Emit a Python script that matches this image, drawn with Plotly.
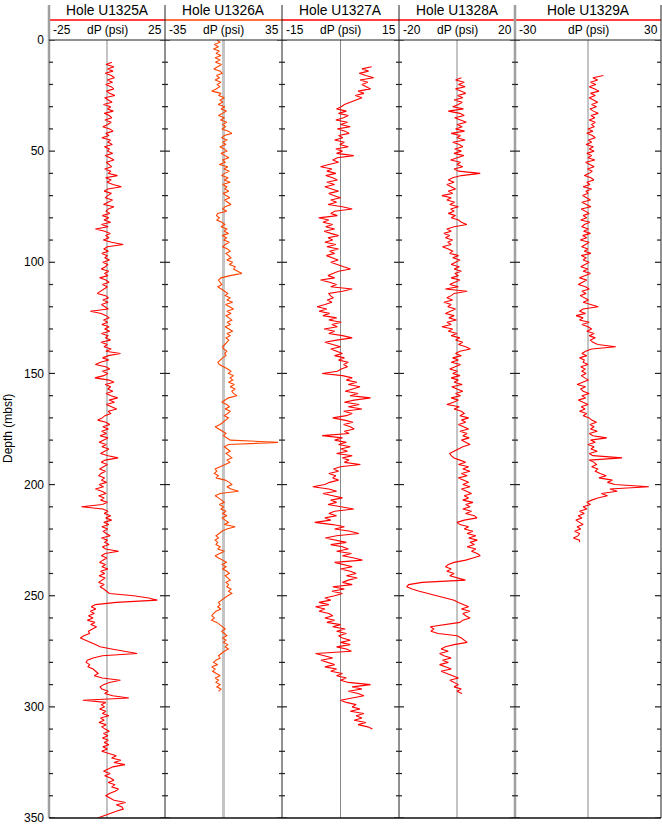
import plotly.graph_objects as go

# ---------------- data (dP in psi, sampled every DEPTH_STEP m from *_START) ----------------
DEPTH_STEP = 1.0
HOLES = ["Hole U1325A", "Hole U1326A", "Hole U1327A", "Hole U1328A", "Hole U1329A"]
X_LIMITS = [25, 35, 15, 20, 30]
COLORS = ["#ff0000", "#ff4400", "#ff0000", "#ff0000", "#ff0000"]
DEPTH_TICKS = [0, 50, 100, 150, 200, 250, 300, 350]

U1325A_START = 10
U1325A_DP = [
    2.1, -0.4, 3.0, 0.2, 2.6, -0.8, 1.9, 3.2, 0.1, 2.4,
    -0.6, 1.8, 2.9, -0.2, 1.1, 3.4, -1.0, 0.8, 2.2, -1.5,
    1.6, 0.2, 2.7, -1.2, 1.0, 2.1, -0.9, 1.8, 0.3, -1.8,
    1.2, 2.6, -0.5, 0.9, -2.2, 1.5, 0.4, 2.3, -1.1, 1.0,
    0.2, 2.4, -0.8, 1.3, 3.0, -0.3, 0.9, 2.0, -1.0, 1.7,
    0.5, 4.5, -0.6, 1.8, 0.0, 2.6, 6.2, 0.4, -1.2, 1.9,
    0.3, -0.8, 2.4, 0.1, -1.5, 3.0, 0.6, -0.4, 1.2, -2.0,
    0.8, -1.3, 1.6, -2.4, 0.5, -5.0, -1.0, 1.4, -0.6, 0.9,
    -1.6, 2.0, 7.0, 0.2, -1.4, 0.6, -2.2, 0.1, -0.9, 1.1,
    -1.8, 0.3, -0.7, -2.5, 0.8, -1.1, 0.4, -3.2, -0.5, 0.9,
    -2.0, 0.2, -1.2, -3.0, -4.2, -0.6, 0.7, -1.8, 0.5, -2.4,
    -0.8, 0.6, -7.2, -2.5, -0.4, 1.0, -1.5, 0.3, -2.2, 0.9,
    -1.0, 1.2, -2.4, 0.4, -0.6, 1.5, -2.6, 0.2, -1.3, 1.8,
    -0.5, 5.8, 0.6, -1.9, 0.8, -2.8, -5.0, -0.6, 1.2, -2.0,
    0.4, -1.4, -5.2, 0.9, 3.0, -0.8, 1.6, 0.3, 2.5, -0.4,
    1.8, 4.6, 0.9, 3.2, -0.3, 2.0, 4.2, 0.5, 1.6, -0.9,
    -2.0, -4.0, -0.5, 1.2, -1.8, 0.6, -2.3, -0.2, -3.0, 0.4,
    -1.6, -3.4, -0.3, -2.2, 0.8, -1.2, -2.8, 0.5, 4.8, -0.8,
    -2.5, 0.2, -1.4, -3.2, -0.6, -2.6, -3.5, -1.0, -2.4, -0.2,
    -3.4, -1.5, -5.0, -2.2, -0.4, -3.6, -1.2, -2.8, 0.2, -2.0,
    -11.0, -1.8, 0.4, -1.2, 1.6, -0.6, 2.0, -1.4, 0.8, -2.2,
    0.3, -1.6, -0.4, 1.4, -2.4, 0.2, -1.0, 0.9, -2.0, -0.6,
    5.0, -0.8, -2.4, 0.0, -1.8, -3.2, -0.6, -2.2, 0.4, -2.8,
    -1.0, -3.4, -0.8, -2.2, -3.6, -1.2, -3.0, -1.4, 0.0, 1.0,
    11.5, 18.0, 21.7, 4.0, -5.0, -6.8, -4.8, -7.2, -5.5, -8.0,
    -6.0, -8.5, -5.2, -7.0, -4.5, -6.2, -8.0, -7.5, -10.0, -11.5,
    -9.0, -7.0, -5.0, -3.0, 2.0, 8.0, 13.0, -2.0, -6.0, -8.5,
    -9.0, -7.5, -8.2, -6.0, -5.0, -3.8, -5.5, -2.0, 5.8, 1.0,
    -1.5, -3.0, -2.2, 0.5, -1.0, 2.5, 9.4, -10.4, -0.5, -2.5,
    -1.0, -3.2, -0.5, -2.0, 0.8, -2.8, -1.2, -3.5, -0.4, -2.2,
    -0.8, 1.0, -1.5, 0.4, -2.0, 0.6, -1.2, 0.8, -1.8, 0.2,
    -2.3, 0.5, 4.0, 2.0, 6.0, 3.0, 7.7, 2.5, 0.5, -1.5,
    1.4, -1.0, 1.5, 3.0, 0.5, 3.5, 2.0, 5.0, 3.5, 1.0,
    -0.5, 1.5, 3.0, 8.0, 4.0, 6.5, 7.0, 4.0, 1.0, -2.0,
    -4.0,
]

U1326A_START = 0
U1326A_DP = [
    -4.0, -2.0, -5.5, -3.0, -6.0, -2.5, -4.5, -1.5, -5.0, -2.0,
    -4.8, -1.2, -3.5, -5.8, -2.0, -0.8, -4.2, -2.5, -5.0, -1.5,
    -3.8, -2.2, -4.5, -7.0, -1.5, -2.8, 0.5, -2.0, -0.5, -3.2,
    0.8, -1.5, 1.8, -0.8, -3.0, 0.6, -1.8, 2.0, -0.5, 1.2,
    -1.0, 3.0, 5.0, 0.5, -1.2, 2.2, -0.6, 1.5, -2.2, 0.4,
    2.0, -1.5, 0.8, 3.2, -0.5, 1.0, -2.5, 2.6, 0.2, 3.5,
    0.6, -1.2, 2.8, 0.4, 4.0, -0.6, 2.0, 0.8, 3.2, -0.2,
    1.5, 3.8, 0.6, 2.2, 4.5, 1.0, -0.5, 2.0, -3.5, -4.2,
    -2.5, -4.0, -1.0, 0.8, -1.5, 2.0, 0.5, 3.0, -0.8, 1.8,
    0.2, 3.5, 1.0, -0.5, 2.4, 4.0, 1.5, 3.0, 4.5, 2.0,
    5.5, 3.5, 7.0, 6.0, 9.0, 11.0, 4.0, -1.5, -3.0, -2.0,
    -1.0, -3.4, -1.5, 0.5, 2.5, 1.0, 4.0, 2.0, 5.5, 1.2,
    3.5, 6.0, 2.0, 4.5, 1.5, 3.0, 5.0, 2.2, 4.2, 1.0,
    3.6, 5.5, 2.0, 4.0, 1.5, 3.2, 2.0, 0.5, -0.5, 0.0,
    2.0, 0.8, 1.5, -0.5, -2.0, -3.4, -2.5, 0.5, 2.5, 4.5,
    3.0, 6.0, 4.0, 5.5, 3.0, 6.5, 4.0, 7.0, 5.0, 6.0,
    8.0, 3.0, 1.0, -1.0, 2.0, 3.5, 1.0, 4.0, 2.5, 0.5,
    3.0, 1.5, -0.5, -2.0, -5.0, -3.0, -0.5, 1.5, 0.0, 2.0,
    4.0, 32.6, 3.0, 0.5, 2.5, 4.0, 1.5, 3.5, 5.0, 2.0,
    4.0, 1.0, -2.0, -5.0, -4.0, -5.5, -3.0, -4.5, 1.0, 3.5,
    5.0, 2.0, 4.5, 9.0, -2.0, -5.0, -3.0, -1.0, 0.5, -2.5,
    0.0, -1.5, 1.5, -0.5, 2.0, -1.0, 1.0, 3.0, 0.5, 7.0,
    2.0, -1.0, -2.5, -4.5, -3.0, -5.0, -3.5, -4.5, -2.0, -3.5,
    0.5, -2.0, -5.0, -3.0, 0.0, 2.0, -1.0, 1.5, -0.5, 2.0,
    3.5, 1.0, 2.5, 4.0, 1.5, 3.0, 2.0, 4.5, 3.0, 5.0,
    2.5, 0.5, -1.5, -3.0, -2.0, -3.5, -1.5, -4.5, -6.0, -7.0,
    -5.5, -7.2, -4.0, -2.0, -0.5, 1.0, -1.0, 0.5, 2.0, -0.5,
    1.5, 0.0, 2.5, 1.0, 3.0, 0.5, -1.5, -3.0, -2.0, -4.5,
    -6.0, -3.5, -7.0, -5.0, -6.5, -4.0, -2.0, -5.0, -3.0, -4.5,
    -2.0, -4.0, -1.5, -3.0,
]

U1327A_START = 12
U1327A_DP = [
    8.0, 5.5, 7.2, 4.8, 6.5, 8.5, 5.0, 7.0,
    5.5, 6.8, 7.7, 4.5, 6.0, 3.8, 5.5, 4.0, 2.5, 1.0,
    0.2, -1.0, 1.5, -0.5, 2.0, 0.8, -1.2, 1.8, 0.0, 2.5,
    -0.8, 1.2, 2.2, -0.5, 0.6, -1.5, 1.0, -0.2, 2.0, -1.2,
    0.5, -1.0, 3.4, -0.8, -2.0, -0.5, -3.0, -5.1, -2.2, -3.5,
    -1.2, -3.8, -2.0, -0.8, -3.5, -1.5, -4.0, -2.2, -0.5, -3.0,
    -1.8, 0.0, -2.5, -1.0, -3.2, 0.5, 3.0, -1.5, -2.5, -0.8,
    -5.6, -3.0, -4.5, -2.0, -3.8, -1.5, -4.2, -2.5, -0.5, -3.2,
    -2.0, -4.0, -1.2, -3.5, -0.5, -2.8, -1.5, -3.6, -2.2, -0.6,
    -2.5, -1.0, 0.8, 2.6, -0.5, -2.0, -3.2, -1.5, -5.1, -2.8,
    -1.0, -2.5, 3.0, 0.5, -3.0, -2.6, -1.8, -3.4, -2.2, -4.0,
    -6.0, -3.5, -5.5, -2.8, -4.5, -1.0, -3.0, 0.2, -2.2, -0.8,
    -4.2, -1.5, -3.0, 0.5, 3.0, -1.0, -4.0, -2.0, 0.0, -2.5,
    -1.0, 0.5, -1.5, 1.0, -0.5, 2.0, 0.8, 1.8, 0.2, -0.8,
    -4.7, 0.5, 3.0, 1.5, 4.2, 2.0, 5.0, 3.2, 1.2, 4.5,
    2.5, 7.7, 3.5, 1.0, 4.8, 2.0, 5.5, 0.8, 3.0, 1.5,
    -2.0, 1.0, 3.2, 0.8, 2.5, 3.5, 1.0, 2.2, -4.7, 0.5,
    -1.5, 1.5, -0.5, 2.5, 0.0, 1.8, -1.0, 3.0, 0.5, 2.2,
    1.0, 5.1, 0.0, -1.8, -0.5, -3.0, -1.2, -2.0, -0.5, -2.8,
    -4.0, -7.1, -3.0, -1.0, -4.5, -2.0, 0.5, -2.5, -1.0, -3.2,
    0.0, 3.4, -1.5, -3.0, -1.0, -4.0, -2.5, -6.6, -2.0, 1.0,
    -1.5, 2.5, 4.7, -1.0, -3.9, -1.5, 1.5, -2.5, 0.5, 2.0,
    -1.0, 2.8, 0.5, 3.5, 5.6, -1.5, 1.0, 3.0, 0.0, 2.5,
    4.0, 1.5, 4.3, 2.0, 0.5, 3.0, -2.0, 1.0, -2.2, 0.5,
    -1.5, -4.0, -2.5, -5.5, -3.0, -6.4, -4.0, -5.5, -3.0, -2.0,
    -4.0, -1.5, -3.5, 0.0, -2.0, 1.2, -1.0, 1.5, -0.5, 0.5,
    2.5, 0.0, 2.5, -1.0, 1.5, 2.8, -6.4, -4.5, -2.0, -5.0,
    -3.0, -1.5, -4.0, -1.0, -2.5, 0.5, -1.0, 1.5, 0.0, 2.0,
    7.7, 3.0, 5.5, 2.0, 4.5, 6.0, 3.0, 0.0, 1.5, 4.0,
    3.0, 5.0, 2.5, 6.0, 4.0, 5.5, 3.5, 6.5, 4.5, 7.0, 8.2,
]

U1328A_START = 17
U1328A_DP = [
    1.5, -0.5, 2.5,
    0.5, 2.8, -0.5, 1.5, 3.0, 0.2, 2.0, -1.0, 1.8, 0.5,
    -1.5, 2.2, -3.0, 1.0, 2.5, -0.8, 1.5, 3.2, 0.0, 1.8,
    -0.5, 2.6, -2.0, 1.2, 0.0, 2.8, -1.5, 0.8, 2.0, -0.8,
    1.5, -1.0, 2.4, 0.3, -2.2, 1.2, 0.0, 2.0, -1.0, 0.5,
    8.0, 1.5, -1.5, -3.0, -1.0, -3.5, -2.0, -0.5, -3.0, -1.5,
    -5.2, -2.0, -3.5, -0.8, -2.5, 0.5, -2.2, -1.0, -3.0, -0.5,
    -2.0, 0.5, 1.5, 3.4, -1.0, -3.5, -2.0, -4.5, -2.5, -4.0,
    -1.5, -3.2, -2.0, -5.0, -3.0, -1.5, -2.5, 0.5, -1.5, 1.0,
    -0.5, -2.0, 0.8, -1.0, 1.5, -0.8, 0.5, -2.0, 1.0, -1.0,
    -2.5, 0.5, -4.0, 3.5, -1.0, -2.0, -3.5, -1.5, -4.5, -2.0,
    -3.2, -0.5, -2.5, -4.0, -1.0, -2.8, -0.2, -3.5, -2.0, -5.2,
    -1.5, -3.0, 0.0, -2.0, 1.0, -0.5, 2.0, 0.5, 3.0, 4.6,
    1.0, -0.5, 1.5, -1.5, 0.5, -2.0, 1.2, -0.8, -2.5, 0.2,
    -1.5, 1.0, -2.0, 0.5, -1.0, 1.8, -1.8, 0.0, 2.0, -0.5,
    1.2, -2.0, 0.5, -1.2, -3.5, 0.8, -1.0, 1.5, 2.5, 1.0,
    4.0, 1.5, 3.0, 0.5, 2.2, 4.0, 1.0, 3.5, 2.0, 4.2,
    1.5, 3.0, 4.5, 2.0, 0.5, -1.0, -2.5, -2.0, -1.0, 1.0,
    3.0, 0.5, 4.0, 2.0, 4.5, 1.5, 3.5, 0.5, 2.5, 4.0,
    2.0, 4.5, 1.5, 3.5, 5.0, 2.5, 4.0, 2.0, 5.5, 3.0,
    4.5, 2.0, 5.0, 3.0, 6.0, 6.9, 2.5, 0.0, 1.0, 4.0,
    2.5, 5.5, 3.5, 6.5, 4.0, 7.0, 4.5, 6.0, 3.5, 6.5,
    5.0, 7.0, 8.0, 5.5, 3.0, -1.0, -3.0, -4.0, -2.0, -3.5,
    -1.0, -2.5, 0.5, 2.9, -12.0, -16.7, -17.3, -15.5, -13.0, -10.0,
    -6.0, -3.0, -1.0, 0.5, 2.0, 4.0, 1.5, 4.5, 2.0, 3.0,
    4.5, 2.0, 1.0, -4.0, -9.2, -8.0, -9.0, -6.5, 0.0, 1.5,
    2.5, 3.5, -1.0, -4.0, -5.5, -3.0, -6.0, -4.5, -2.0, -5.0,
    -3.0, -6.0, -4.0, -2.0, -5.5, -3.5, -1.0, 0.5, -2.5, -1.0,
    0.5, -1.0, 1.5, 0.0, 1.7,
]

U1329A_START = 16
U1329A_DP = [
    6.3, 2.0, 4.0, 1.0,
    3.2, 0.5, 2.8, 4.5, 1.0, 3.0, 0.5, 2.5, 4.0, 1.5,
    3.5, 0.8, 2.2, 4.2, 1.2, 2.8, 0.5, 3.0, 1.5, 2.5,
    0.0, 2.0, -0.5, 1.8, 3.0, 0.2, 1.5, -0.8, 2.2, 0.5,
    2.5, -0.5, 1.5, 0.0, 2.8, -1.0, 1.0, 2.5, -0.2, 1.8,
    0.5, -1.5, 1.2, 2.4, -0.5, 0.8, -2.0, 1.5, -0.8, 0.0,
    -2.2, -0.5, 1.0, -2.5, -0.8, 1.2, -2.8, -1.0, 0.5, -2.0,
    -0.5, -3.0, 0.8, -1.5, -2.5, 0.2, -1.8, 1.0, -2.2, -0.5,
    -3.2, 0.5, -1.0, -2.6, 0.0, -1.5, 1.2, -2.8, -0.8, -2.0,
    0.5, -1.2, -3.0, 0.0, -2.0, 1.0, -1.5, -3.5, -0.5, -2.2,
    -4.0, -1.0, 0.5, -2.5, -0.8, -3.2, -1.5, 0.2, -2.0, 1.0,
    4.2, -2.0, -3.5, -1.0, -4.9, -2.0, -3.5, 0.5, -2.5, 0.0,
    1.5, -0.5, 2.5, 0.5, 3.0, 1.0, 2.0, 4.0, 11.4, 1.5,
    -1.0, -2.5, -0.5, -3.5, -1.5, -2.0, 0.0, -3.0, -1.2, -2.5,
    -0.8, -2.8, -1.5, 0.2, -2.2, -4.5, -1.0, -3.0, -2.0, 0.5,
    -2.5, -1.0, -4.0, -1.8, 0.0, -2.8, -1.2, -3.5, -0.5, -2.0,
    0.5, 1.5, 3.5, 0.8, 2.5, 1.0, 3.8, 0.5, 2.0, 7.7,
    1.0, 3.0, 0.0, 2.5, 1.2, 3.8, 0.5, 2.0, 14.0, 0.5,
    2.5, 3.5, 1.5, 4.0, 3.0, 5.0, 7.5, 4.5, 10.0, 8.0,
    11.0, 25.0, 9.0, 12.0, 5.5, 8.0, 4.0, 1.5, -0.5, 1.0,
    -2.0, -0.5, -3.5, -1.5, -4.0, -2.5, -5.0, -3.5, -2.0, -4.5,
    -3.0, -5.5, -3.5, -4.0, -6.0, -3.5, -3.5,
]

STARTS = [U1325A_START, U1326A_START, U1327A_START, U1328A_START, U1329A_START]
SERIES = [U1325A_DP, U1326A_DP, U1327A_DP, U1328A_DP, U1329A_DP]

# ---------------- layout geometry ----------------
W, H = 662, 825
ML, MR, MT, MB = 49, 1, 40, 7
PW = W - ML - MR
PH = H - MT - MB
BOUNDARY_PX = [49, 165, 282, 399, 515, 661]
BOUNDS = [(p - ML) / PW for p in BOUNDARY_PX]
FONT = "Liberation Sans, Arial, Helvetica, sans-serif"


def py(px_above):
    """paper y for a point px_above pixels above plot top"""
    return 1 + px_above / PH


fig = go.Figure()
layout = dict(
    width=W, height=H,
    margin=dict(l=ML, r=MR, t=MT, b=MB, pad=0),
    paper_bgcolor="white", plot_bgcolor="white",
    showlegend=False,
    font=dict(family=FONT, color="black"),
    yaxis=dict(range=[350, 0], tickvals=DEPTH_TICKS, ticks="", showgrid=False,
               zeroline=False, showline=False, tickfont=dict(size=12, color="black"),
               ticklabelstandoff=4, ticklabeloverflow="allow", anchor="x",
               fixedrange=True),
)

shapes = []
annotations = []

for i in range(5):
    xa = "x" if i == 0 else f"x{i+1}"
    key = "xaxis" if i == 0 else f"xaxis{i+1}"
    lim = X_LIMITS[i]
    layout[key] = dict(domain=[BOUNDS[i], BOUNDS[i + 1]], range=[-lim, lim],
                       visible=False, anchor="y", fixedrange=True)
    depths = [STARTS[i] + k * DEPTH_STEP for k in range(len(SERIES[i]))]
    fig.add_trace(go.Scatter(x=SERIES[i], y=depths, xaxis=xa, yaxis="y", mode="lines",
                             line=dict(color=COLORS[i], width=1.1), hoverinfo="skip"))
    # centre (zero) line
    if i == 1:
        cl = dict(color="#c4c4c4", width=3)
    else:
        cl = dict(color="#8a8a8a", width=1)
    shapes.append(dict(type="line", xref=xa, yref="paper", x0=0, x1=0, y0=0, y1=1,
                       line=cl, layer="below"))
    # header colour line
    shapes.append(dict(type="line", xref="paper", yref="paper", x0=BOUNDS[i], x1=BOUNDS[i + 1],
                       y0=py(20), y1=py(20), line=dict(color=COLORS[i], width=1.5)))
    # header texts
    annotations.append(dict(text=HOLES[i], xref=xa, yref="paper", x=0, y=1, yshift=30,
                            showarrow=False, xanchor="center", yanchor="middle",
                            font=dict(size=13.8, family=FONT, color="black")))
    annotations.append(dict(text="dP (psi)", xref=xa, yref="paper", x=0, y=1, yshift=10.5,
                            showarrow=False, xanchor="center", yanchor="middle",
                            font=dict(size=12, family=FONT, color="black")))
    annotations.append(dict(text=f"-{lim}", xref=xa, yref="paper", x=-lim, y=1, yshift=10.5,
                            xshift=2, showarrow=False, xanchor="left", yanchor="middle",
                            font=dict(size=12, family=FONT, color="black")))
    annotations.append(dict(text=f"{lim}", xref=xa, yref="paper", x=lim, y=1, yshift=10.5,
                            xshift=-1, showarrow=False, xanchor="right", yanchor="middle",
                            font=dict(size=12, family=FONT, color="black")))

# panel boundary lines (extend up into header)
for bi, bx in enumerate(BOUNDS):
    if bi in (0, 4):
        lc = dict(color="#a0a0a0", width=2.5)
    else:
        lc = dict(color="#222222", width=1)
    shapes.append(dict(type="line", xref="paper", yref="paper", x0=bx, x1=bx,
                       y0=0, y1=py(35), line=lc))
    # depth ticks on every boundary
    for d in range(0, 351, 10):
        major = d % 50 == 0
        L = 5 if major else 3
        x0 = -L if bi > 0 else 0
        x1 = L if bi < len(BOUNDS) - 1 else 0
        if bi == 0:
            x1 = L + 1
        if bi == len(BOUNDS) - 1:
            x0 = -(L + 1)
        shapes.append(dict(type="line", xref="paper", xsizemode="pixel", xanchor=bx,
                           x0=x0, x1=x1, yref="y", y0=d, y1=d,
                           line=dict(color="#222222", width=1.2)))

# top and bottom frame
shapes.append(dict(type="line", xref="paper", yref="paper", x0=0, x1=1, y0=1, y1=1,
                   line=dict(color="#222222", width=1)))
shapes.append(dict(type="line", xref="paper", yref="paper", x0=0, x1=1, y0=0, y1=0,
                   line=dict(color="#111111", width=1.5)))

annotations.append(dict(text="Depth (mbsf)", xref="paper", yref="paper", x=0, y=0.5,
                        xshift=-41, textangle=-90, showarrow=False,
                        xanchor="center", yanchor="middle",
                        font=dict(size=12, family=FONT, color="black")))

layout["shapes"] = shapes
layout["annotations"] = annotations
fig.update_layout(**layout)
fig.write_html("out.html", config={"displayModeBar": False},
               post_script="document.body.style.margin='0';document.body.style.padding='0';")
